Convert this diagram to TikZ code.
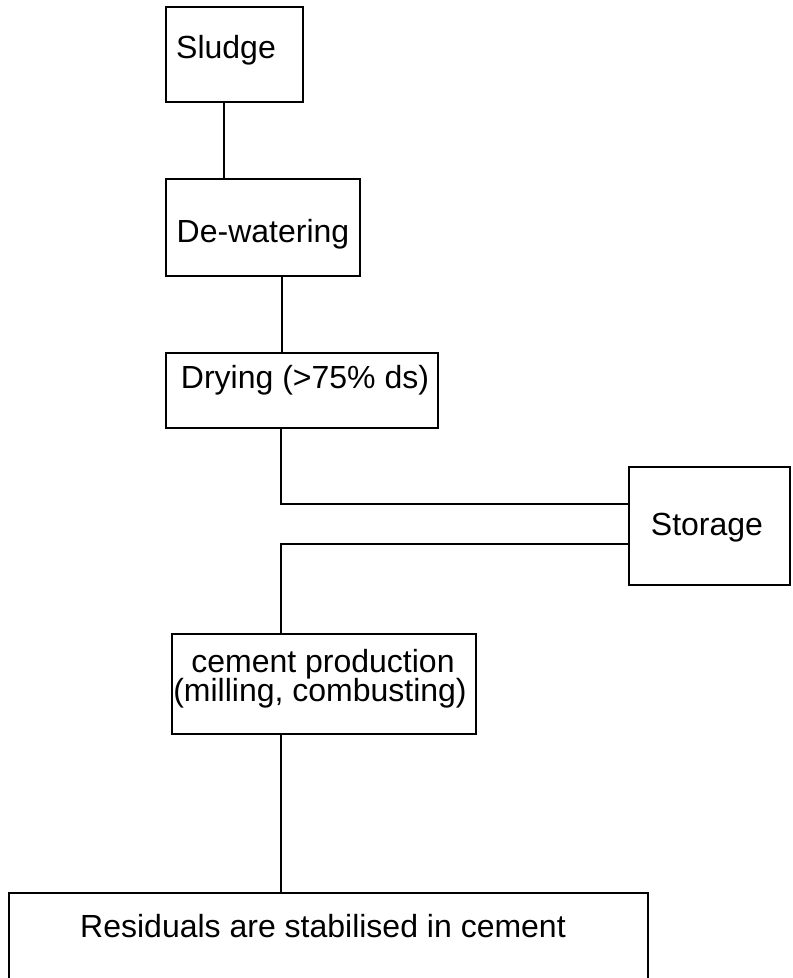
\documentclass[tikz,border=0pt]{standalone}
\usepackage{fontspec}
\setmainfont{Liberation Sans}
\begin{document}
\begin{tikzpicture}[x=1pt, y=-1pt,
  procbox/.style={draw=black, line width=1.8pt, rectangle, inner sep=0pt, anchor=north west},
  lbl/.style={font=\fontsize{32}{29}\selectfont, inner sep=0pt, anchor=base, text=black},
  link/.style={draw=black, line width=1.8pt}]
  \useasboundingbox (0,0) rectangle (793,978);

  % process boxes (top-left corner, width, height)
  \node[procbox, minimum width=137pt, minimum height=95pt]  (sludge)  at (165,6)   {};
  \node[procbox, minimum width=194pt, minimum height=97pt]  (dewater) at (165,178) {};
  \node[procbox, minimum width=272pt, minimum height=75pt]  (drying)  at (165,352) {};
  \node[procbox, minimum width=161pt, minimum height=118pt] (storage) at (628,466) {};
  \node[procbox, minimum width=304pt, minimum height=100pt] (cement)  at (171,633) {};
  \node[procbox, minimum width=639pt, minimum height=90pt]  (resid)   at (8,892)   {};

  % box texts
  \node[lbl] (sludge-t)  at (226,58)  {Sludge};
  \node[lbl] (dewater-t) at (263,242) {De-watering};
  \node[lbl] (drying-t)  at (305,388) {Drying (>75\% ds)};
  \node[lbl] (storage-t) at (707,535) {Storage};
  \node[lbl] (cement-t1) at (323,672) {cement production};
  \node[lbl] (cement-t2) at (320,701) {(milling, combusting)};
  \node[lbl] (resid-t)   at (323,937) {Residuals are stabilised in cement};

  % connectors
  \draw[link] (224,0 |- sludge.south) -- (224,0 |- dewater.north);
  \draw[link] (282,0 |- dewater.south) -- (282,0 |- drying.north);
  \draw[link] (281,0 |- drying.south) -- (281,504) -- (storage.west |- 0,504);
  \draw[link] (storage.west |- 0,544) -- (281,544) -- (281,0 |- cement.north);
  \draw[link] (281,0 |- cement.south) -- (281,0 |- resid.north);
\end{tikzpicture}
\end{document}
